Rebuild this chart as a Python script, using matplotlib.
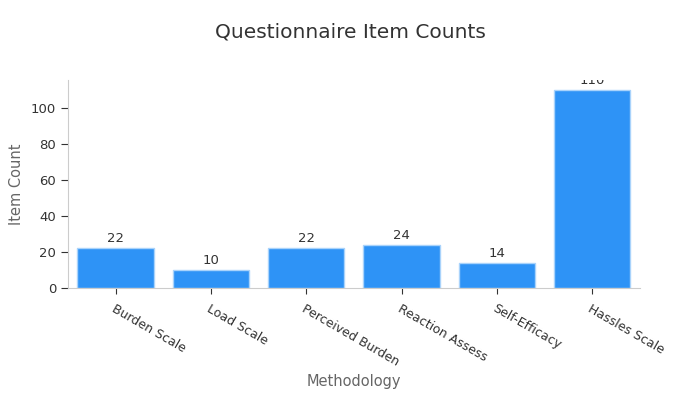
import numpy as np
import matplotlib
matplotlib.use('Agg')
import matplotlib.pyplot as plt

# ---------------------------------------------------------------------------
# Data
# ---------------------------------------------------------------------------

methods = ['Burden Scale', 'Load Scale', 'Perceived Burden',
           'Reaction Assess', 'Self-Efficacy', 'Hassles Scale']
item_counts = [22, 10, 22, 24, 14, 110]

BAR_COLOR  = '#2e93f6'
EDGE_COLOR = '#a9d3fb'
TEXT_COLOR = '#333333'
LABEL_GREY = '#666666'
SPINE_GREY = '#cccccc'

plt.rcParams.update({
    'font.family': 'DejaVu Sans',
    'font.size'  : 9.5,
})

fig = plt.figure(figsize=(7, 4), dpi=100)
ax = fig.add_axes([0.097, 0.28, 0.817, 0.52])

x = np.arange(len(methods))
bars = ax.bar(x, item_counts, width=0.8, color=BAR_COLOR,
              edgecolor=EDGE_COLOR, linewidth=1)

for xi, v in zip(x, item_counts):
    ax.text(xi, v + 1.8, f'{v}', ha='center', va='bottom',
            fontsize=9.5, color=TEXT_COLOR, clip_on=True)

ax.set_xlim(-0.5, len(methods) - 0.5)
ax.set_ylim(0, 115.5)
ax.set_yticks([0, 20, 40, 60, 80, 100])

ax.set_xticks(x)
ax.set_xticklabels(methods, rotation=-30, ha='left', rotation_mode='anchor',
                   color=TEXT_COLOR, fontsize=9)
ax.tick_params(axis='y', colors=TEXT_COLOR, length=5, labelsize=9.5)
ax.tick_params(axis='x', colors=TEXT_COLOR, length=4, pad=6)
for t in ax.get_xticklines() + ax.get_yticklines():
    t.set_color('#888888')

for s in ['top', 'right']:
    ax.spines[s].set_visible(False)
for s in ['left', 'bottom']:
    ax.spines[s].set_color(SPINE_GREY)

ax.set_xlabel('Methodology', fontsize=10.5, color=LABEL_GREY, labelpad=4)
ax.set_ylabel('Item Count', fontsize=10.5, color=LABEL_GREY, labelpad=5)
fig.suptitle('Questionnaire Item Counts', fontsize=14.5, color=TEXT_COLOR, y=0.945)

fig.savefig('out.png', dpi=100)
